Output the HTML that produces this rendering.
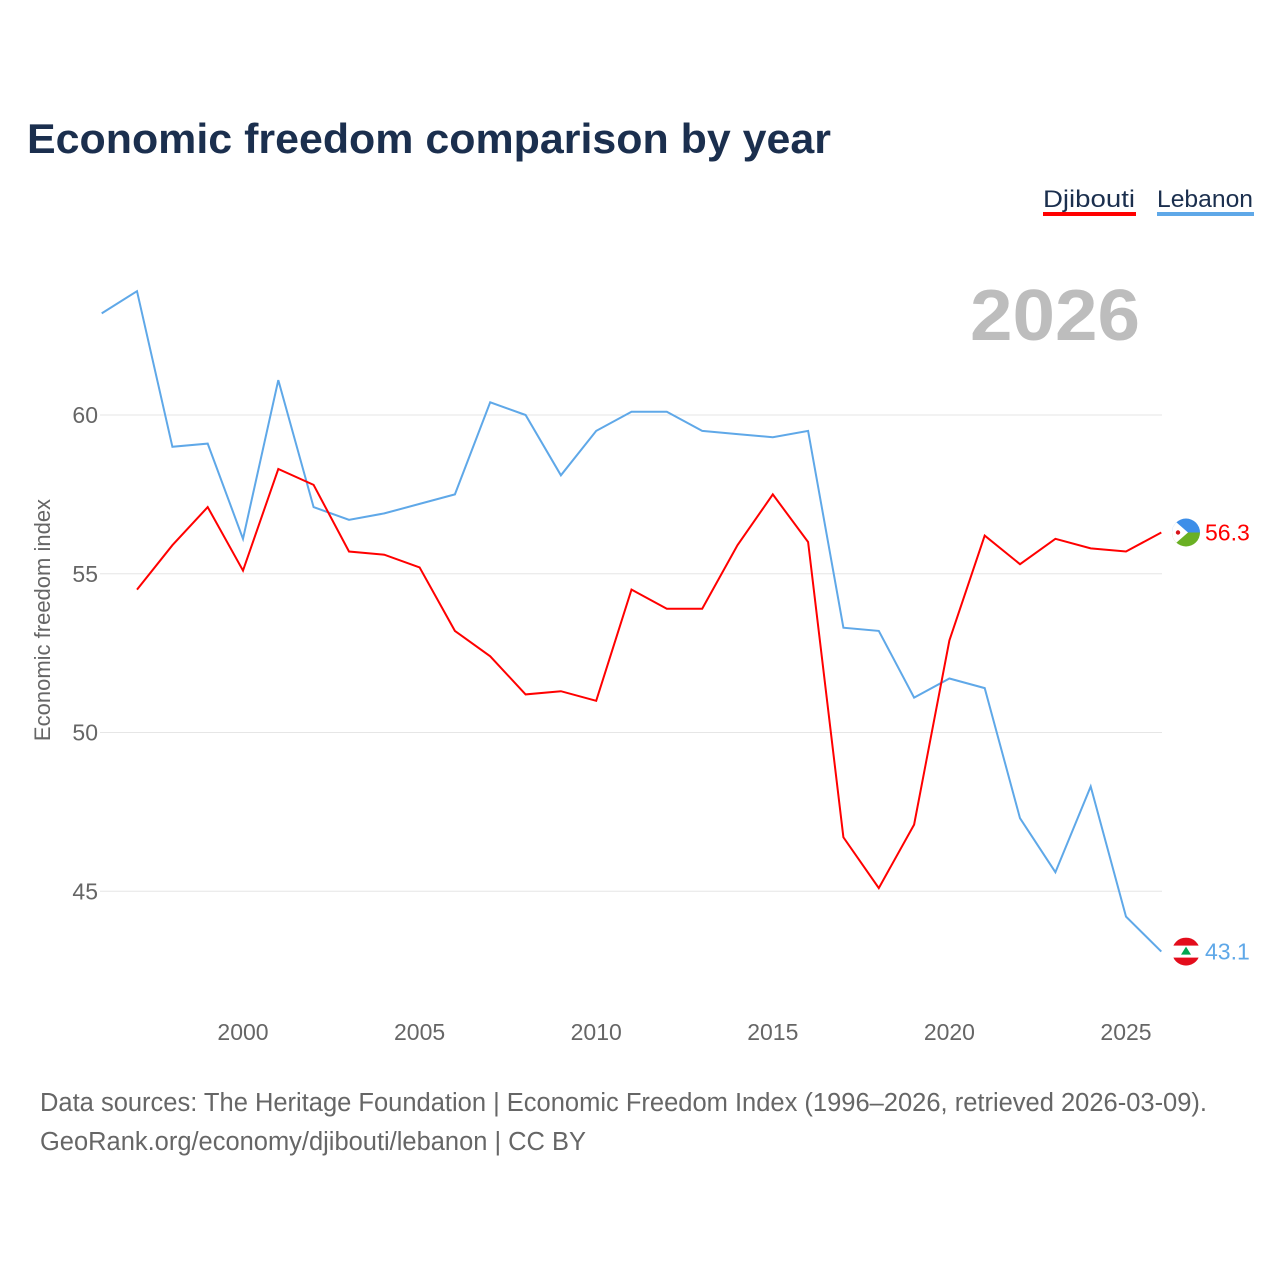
<!DOCTYPE html>
<html><head><meta charset="utf-8"><style>
body{margin:0;background:#fff;font-family:"Liberation Sans",sans-serif}
svg{display:block}
</style></head><body>
<svg width="1280" height="1280" viewBox="0 0 1280 1280" id="chart">
<defs>
<clipPath id="cDj"><circle cx="0" cy="0" r="14"/></clipPath>
</defs>
<rect width="1280" height="1280" fill="#fff"/>
<text x="27" y="153" font-size="42" font-weight="bold" fill="#1b2f4e" textLength="804" lengthAdjust="spacingAndGlyphs">Economic freedom comparison by year</text>
<g><text x="1043" y="207" font-size="24" fill="#1b2f4e" textLength="92" lengthAdjust="spacingAndGlyphs">Djibouti</text><rect x="1043" y="212" width="93" height="4" fill="#ff0000"/></g>
<g><text x="1157" y="207" font-size="24" fill="#1b2f4e" textLength="96" lengthAdjust="spacingAndGlyphs">Lebanon</text><rect x="1157" y="212" width="97" height="4" fill="#5fa8e8"/></g>
<text x="1140" y="340" font-size="72" font-weight="bold" fill="#bdbdbd" text-anchor="end" textLength="170" lengthAdjust="spacingAndGlyphs">2026</text>
<text transform="translate(50,620) rotate(-90)" font-size="22" fill="#666" text-anchor="middle">Economic freedom index</text>
<g id="grid"></g><g id="xt"></g><g id="lines"></g>
<text x="40" y="1111" font-size="25.5" fill="#666" textLength="1167" lengthAdjust="spacingAndGlyphs">Data sources: The Heritage Foundation | Economic Freedom Index (1996–2026, retrieved 2026-03-09).</text>
<text x="40" y="1150" font-size="25.5" fill="#666" textLength="546" lengthAdjust="spacingAndGlyphs">GeoRank.org/economy/djibouti/lebanon | CC BY</text>
</svg>
<script>
const years=[1996,1997,1998,1999,2000,2001,2002,2003,2004,2005,2006,2007,2008,2009,2010,2011,2012,2013,2014,2015,2016,2017,2018,2019,2020,2021,2022,2023,2024,2025,2026];
const lebanon=[63.2,63.9,59.0,59.1,56.1,61.1,57.1,56.7,56.9,57.2,57.5,60.4,60.0,58.1,59.5,60.1,60.1,59.5,59.4,59.3,59.5,53.3,53.2,51.1,51.7,51.4,47.3,45.6,48.3,44.2,43.1];
const djibouti=[null,54.5,55.9,57.1,55.1,58.3,57.8,55.7,55.6,55.2,53.2,52.4,51.2,51.3,51.0,54.5,53.9,53.9,55.9,57.5,56.0,46.7,45.1,47.1,52.9,56.2,55.3,56.1,55.8,55.7,56.3];
const yTicks=[45,50,55,60];
const xTicks=[2000,2005,2010,2015,2020,2025];
const NS="http://www.w3.org/2000/svg";
const X=y=>243+(y-2000)*35.32;
const Y=v=>415-(v-60)*31.75;
function mk(t,a,p){const e=document.createElementNS(NS,t);for(const k in a)e.setAttribute(k,a[k]);p.appendChild(e);return e;}
const g=document.getElementById('grid');
yTicks.forEach(v=>{
 const l=mk('line',{x1:100,x2:1162,y1:Y(v),y2:Y(v),stroke:'#e6e6e6','stroke-width':1},g);
 
 
 const t=mk('text',{x:98,y:Y(v)+8,'font-size':23,fill:'#666','text-anchor':'end'},g);t.textContent=v;
 
 
});
const xt=document.getElementById('xt');
xTicks.forEach(v=>{
 const t=mk('text',{x:X(v),y:1040,'font-size':23,fill:'#666','text-anchor':'middle'},xt);t.textContent=v;
 
 
});
const L=document.getElementById('lines');
function series(vals,col,name){
 let d='';vals.forEach((v,i)=>{if(v==null)return;d+=(d?'L':'M')+X(years[i]).toFixed(1)+','+Y(v).toFixed(1);});
 const p=mk('path',{d:d,fill:'none',stroke:col,'stroke-width':2},L);
 
 
 const last=vals[vals.length-1];
 const f=mk('g',{transform:'translate(1186,'+Y(last).toFixed(1)+')','clip-path':'url(#cDj)'},L);
 
 
 if(name==='djibouti'){
  mk('rect',{x:-14,y:-14,width:28,height:14,fill:'#3d8ee8'},f);
  mk('rect',{x:-14,y:0,width:28,height:14,fill:'#6ab023'},f);
  mk('polygon',{points:'-14,-14 2,0 -14,14',fill:'#fff'},f);
  mk('circle',{cx:-8,cy:0,r:2.2,fill:'#d7141a'},f);
 } else {
  mk('rect',{x:-14,y:-14,width:28,height:28,fill:'#fff'},f);
  mk('rect',{x:-14,y:-14,width:28,height:8,fill:'#e30d1c'},f);
  mk('rect',{x:-14,y:6,width:28,height:8,fill:'#e30d1c'},f);
  mk('polygon',{points:'0,-5 5,3 -5,3',fill:'#00a651'},f);
 }
 const t=mk('text',{x:1205,y:Y(last)+8,'font-size':23,fill:col},L);t.textContent=last.toFixed(1);
 
 
}
series(lebanon,'#5fa8e8','lebanon');
series(djibouti,'#ff0000','djibouti');
</script>
</body></html>
